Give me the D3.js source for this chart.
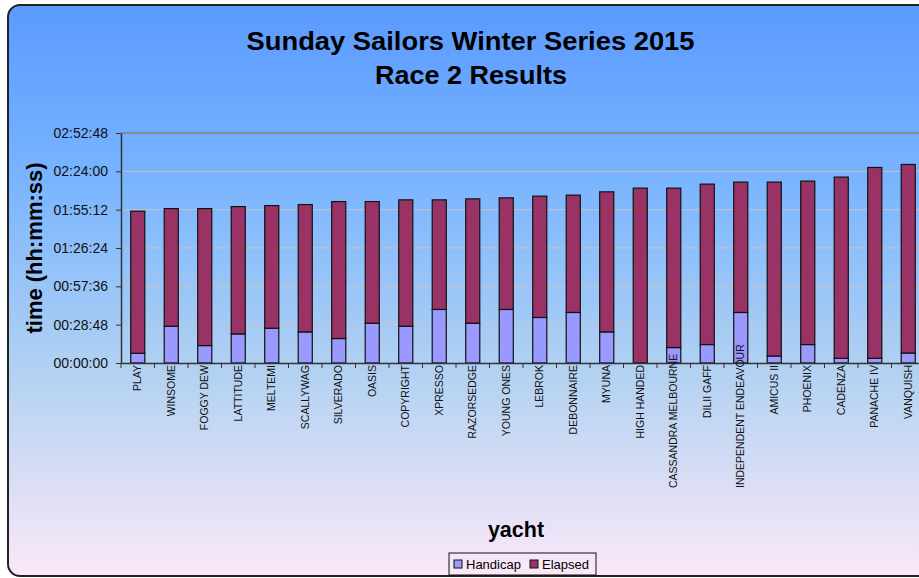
<!DOCTYPE html>
<html>
<head>
<meta charset="utf-8">
<script src="https://cdn.jsdelivr.net/npm/d3@7"></script>
<style>
  body { margin: 0; background: #fff; }
  svg { display: block; font-family: "Liberation Sans", Arial, sans-serif; }
</style>
</head>
<body>
<div id="chart"></div>
<script>
// yachts in finishing order
const yachts = ["PLAY", "WINSOME", "FOGGY DEW", "LATTITUDE", "MELTEMI", "SCALLYWAG",
  "SILVERADO", "OASIS", "COPYRIGHT", "XPRESSO", "RAZORSEDGE", "YOUNG ONES", "LEBROK",
  "DEBONNAIRE", "MYUNA", "HIGH HANDED", "CASSANDRA MELBOURNE", "DILII GAFF",
  "INDEPENDENT ENDEAVOUR", "AMICUS II", "PHOENIX", "CADENZA", "PANACHE IV", "VANQUISH"];

// seconds
const handicap = [438, 1659, 786, 1311, 1568, 1401, 1103, 1794, 1659, 2414, 1794, 2414,
  2052, 2278, 1401, 0, 696, 832, 2278, 316, 832, 212, 212, 452];
const elapsed = [6405, 5302, 6175, 5740, 5528, 5741, 6174, 5483, 5695, 4940, 5605, 5030,
  5469, 5288, 6315, 7883, 7187, 7232, 5876, 7838, 7367, 8168, 8602, 8498];

const series = ["Handicap", "Elapsed"];
const colors = ["#9999FF", "#993366"];
const yTicks = [0, 1728, 3456, 5184, 6912, 8640, 10368];

const data = yachts.map((y, i) => ({yacht: y, Handicap: handicap[i], Elapsed: elapsed[i]}));

const width = 919, height = 578;
const margins = {top: 133, right: -6, bottom: 215, left: 121};

const svg = d3.select("#chart").append("svg")
  .attr("width", width)
  .attr("height", height);

// background gradient
const grad = svg.append("defs").append("linearGradient")
  .attr("id", "bg").attr("x1", 0).attr("y1", 0).attr("x2", 0).attr("y2", 1);
grad.append("stop").attr("offset", "0%").attr("stop-color", "#5A9AFF");
grad.append("stop").attr("offset", "30%").attr("stop-color", "#78B4FF");
grad.append("stop").attr("offset", "65%").attr("stop-color", "#B4D2F2");
grad.append("stop").attr("offset", "100%").attr("stop-color", "#FBE8F8");

svg.append("rect")
  .attr("x", 8).attr("y", 5)
  .attr("width", 940).attr("height", 571)
  .attr("rx", 12).attr("ry", 12)
  .attr("fill", "url(#bg)")
  .attr("stroke", "#222").attr("stroke-width", 2);

const xScale = d3.scaleBand()
  .domain(yachts)
  .range([margins.left, width - margins.right])
  .paddingInner(0.58)
  .paddingOuter(0.29);

const yScale = d3.scaleLinear()
  .domain([0, 10368])
  .range([height - margins.bottom, margins.top]);

const fmt = s => {
  const h = Math.floor(s / 3600), m = Math.floor((s % 3600) / 60), sec = s % 60;
  return [h, m, sec].map(v => String(v).padStart(2, "0")).join(":");
};

// gridlines
svg.append("g")
  .selectAll("line")
  .data(yTicks.slice(1))
  .join("line")
    .attr("x1", margins.left).attr("x2", width)
    .attr("y1", d => yScale(d)).attr("y2", d => yScale(d))
    .attr("stroke", d => d === 10368 ? "#8C8C8C" : "#C4C4C4")
    .attr("stroke-width", d => d === 10368 ? 2 : 1);

// stacked bars
const stacked = d3.stack().keys(series)(data);
svg.append("g")
  .selectAll("g")
  .data(stacked)
  .join("g")
    .attr("fill", (d, i) => colors[i])
  .selectAll("rect")
  .data(d => d.filter(p => p[1] > p[0]))
  .join("rect")
    .attr("x", d => xScale(d.data.yacht))
    .attr("y", d => yScale(d[1]))
    .attr("width", xScale.bandwidth())
    .attr("height", d => yScale(d[0]) - yScale(d[1]))
    .attr("stroke", "#111")
    .attr("stroke-width", 1.2);

// y axis
const yAxis = svg.append("g")
  .attr("transform", `translate(${margins.left},0)`)
  .call(d3.axisLeft(yScale).tickValues(yTicks).tickFormat(fmt).tickSize(5).tickSizeOuter(0));
yAxis.select(".domain").attr("stroke", "#333").attr("stroke-width", 1.5);
yAxis.selectAll(".tick line").attr("stroke", "#333");
yAxis.selectAll("text")
  .attr("x", -13)
  .style("font-size", "14px")
  .style("fill", "#111")
  .style("font-family", "Liberation Sans, Arial, sans-serif");

// x axis
const xAxis = svg.append("g")
  .attr("transform", `translate(0,${yScale(0)})`)
  .call(d3.axisBottom(xScale).tickSize(0).tickSizeOuter(0));
xAxis.select(".domain").attr("stroke", "#333").attr("stroke-width", 1.5);
const labelBottom = 488 - yScale(0);
xAxis.selectAll(".tick text")
  .style("text-anchor", "end")
  .style("font-size", "10.5px")
  .style("fill", "#111")
  .style("font-family", "Liberation Sans, Arial, sans-serif")
  .attr("y", 0).attr("dy", "0.35em")
  .attr("transform", "rotate(-90)")
  .attr("x", function() {
    // long names are pushed up so they end at the bottom of the label area
    const len = this.getComputedTextLength();
    return -Math.min(2, labelBottom - len);
  });

// tick marks between categories
xAxis.append("g")
  .selectAll("line")
  .data(yachts)
  .join("line")
    .attr("x1", d => xScale(d) - xScale.step() * xScale.paddingInner() / 2)
    .attr("x2", d => xScale(d) - xScale.step() * xScale.paddingInner() / 2)
    .attr("y1", 0).attr("y2", 5)
    .attr("stroke", "#333");

// titles
svg.append("text")
  .attr("x", 470.5).attr("y", 50)
  .attr("text-anchor", "middle")
  .attr("textLength", 448).attr("lengthAdjust", "spacingAndGlyphs")
  .style("font-size", "25.5px").style("font-weight", "bold")
  .text("Sunday Sailors Winter Series 2015");
svg.append("text")
  .attr("x", 471).attr("y", 84)
  .attr("text-anchor", "middle")
  .attr("textLength", 192).attr("lengthAdjust", "spacingAndGlyphs")
  .style("font-size", "25.5px").style("font-weight", "bold")
  .text("Race 2 Results");

svg.append("text")
  .attr("transform", `translate(42,${(yScale(0) + yScale(10368)) / 2}) rotate(-90)`)
  .attr("text-anchor", "middle")
  .style("font-size", "22px").style("font-weight", "bold")
  .text("time (hh:mm:ss)");

svg.append("text")
  .attr("x", 516).attr("y", 537)
  .attr("text-anchor", "middle")
  .style("font-size", "21.5px").style("font-weight", "bold")
  .text("yacht");

// legend
const legend = svg.append("g").attr("transform", "translate(449,553)");
legend.append("rect")
  .attr("width", 147).attr("height", 22)
  .attr("fill", "none").attr("stroke", "#111");
const items = legend.selectAll("g.item")
  .data(series)
  .join("g")
    .attr("class", "item")
    .attr("transform", (d, i) => `translate(${i === 0 ? 5 : 81},0)`);
items.append("rect")
  .attr("y", 7).attr("width", 8).attr("height", 8)
  .attr("fill", (d, i) => colors[i]).attr("stroke", "#111");
items.append("text")
  .attr("x", 12).attr("y", 16)
  .style("font-size", "13px")
  .text(d => d);
</script>
</body>
</html>
